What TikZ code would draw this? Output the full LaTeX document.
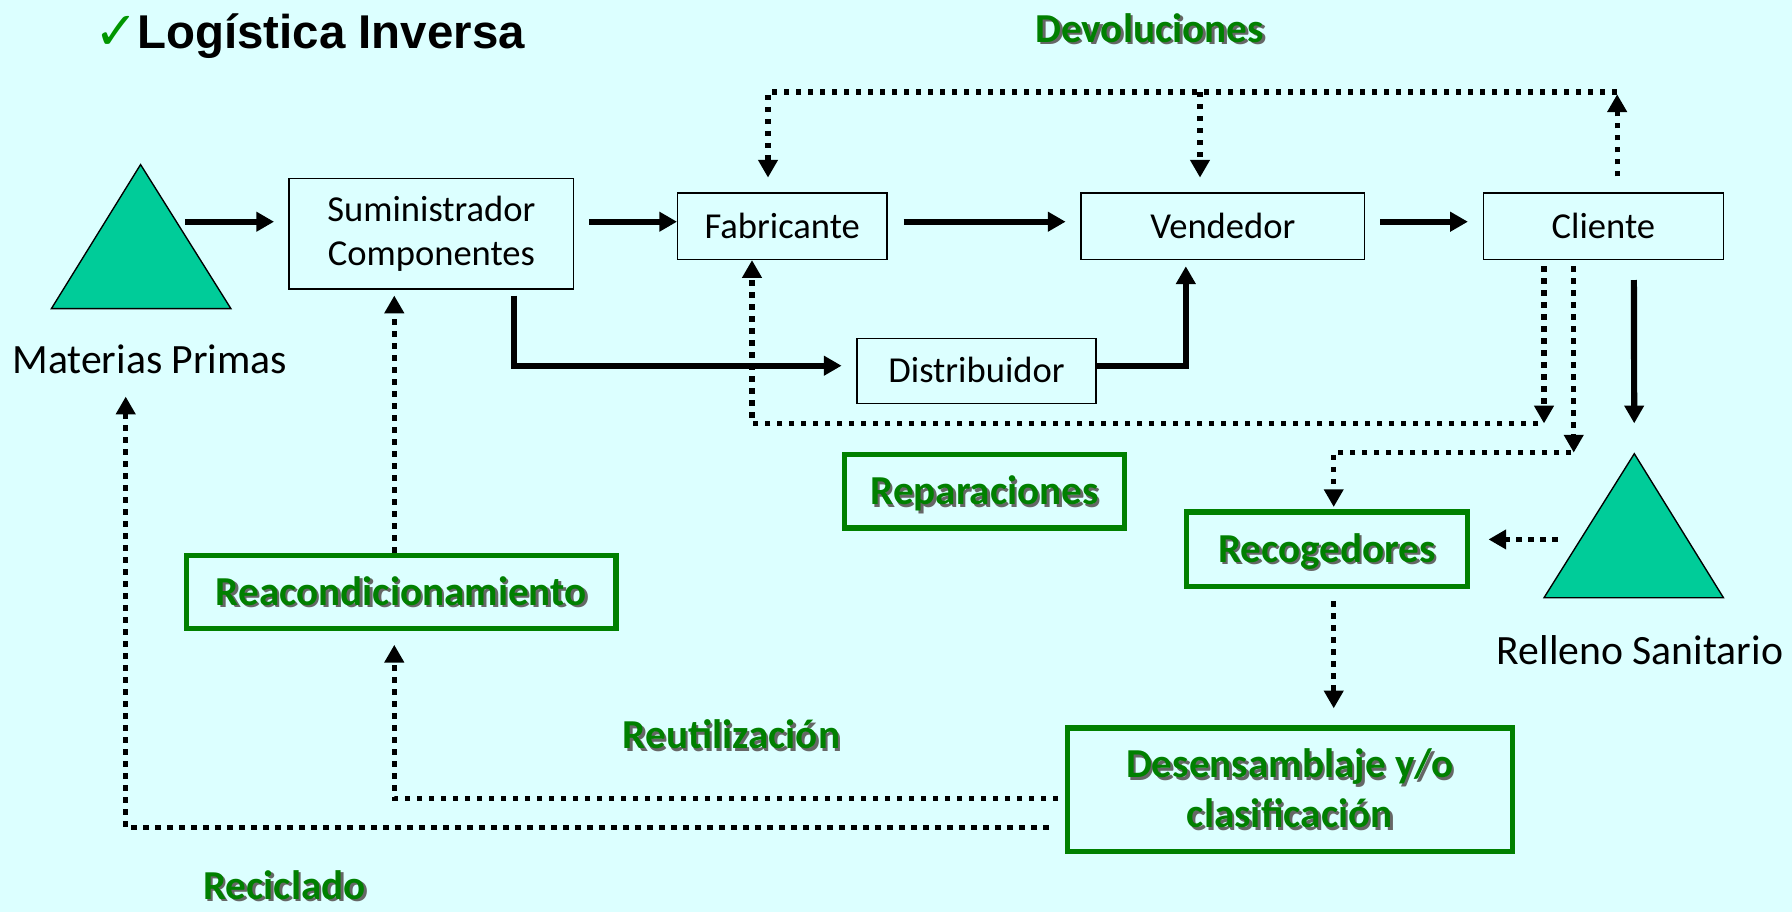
\documentclass[tikz,border=0pt]{standalone}
\usepackage{fontspec}
\setmainfont{Carlito}
\newfontfamily\titlefont{Liberation Sans}
\newfontfamily\symfont{DejaVu Sans}
\usetikzlibrary{arrows.meta,calc}
\definecolor{bgc}{RGB}{220,255,255}
\definecolor{gr}{RGB}{0,128,0}
\definecolor{chkc}{RGB}{0,150,0}
\definecolor{tricol}{RGB}{0,204,153}
\newcommand\shd[1]{\leavevmode\rlap{\hspace{2.2pt}\raisebox{-2.2pt}{\textcolor{black!60}{#1}}}\textcolor{gr}{#1}}
\begin{document}
\begin{tikzpicture}[x=1pt,y=-1pt,
  boxb/.style={draw=black,line width=1.2pt,inner sep=0pt,font=\fontsize{32}{39}\selectfont},
  box1/.style={boxb,text height=20.6pt,text depth=0pt},
  gboxb/.style={draw=gr,line width=4.4pt,inner sep=0pt,font=\fontsize{36}{44}\selectfont\bfseries},
  gbox1/.style={gboxb,text height=23.2pt,text depth=0pt},
  glabel/.style={inner sep=0pt,font=\fontsize{36}{44}\selectfont\bfseries,anchor=base},
  plain/.style={inner sep=0pt,font=\fontsize{36.5}{44}\selectfont,anchor=base},
  sarr/.style={line width=5.4pt,-{Triangle[length=15.5pt,width=16.5pt]}},
  darr/.style={line width=4.6pt,dash pattern=on 4.8pt off 5.7pt,-{Triangle[length=15.5pt,width=16.5pt]}},
  trishape/.style={draw=black,line width=1.2pt,fill=tricol}]
\useasboundingbox (0,0) rectangle (1568,798);
\fill[bgc] (0,0) rectangle (1568,798);

% triangles
\draw[trishape] (123,144) -- (202,270) -- (45,270) -- cycle;
\draw[trishape] (1430,397) -- (1508,523) -- (1351,523) -- cycle;
\coordinate (mpR) at (162,194);
\coordinate (rsApex) at (1430,397);
\coordinate (rsL) at (1363,472);
\coordinate (mpb) at (110,347);

% title
\node[anchor=base west,inner sep=0pt,font=\titlefont\bfseries\fontsize{41.5}{48}\selectfont] (title) at (120,42) {Logística Inversa};
\node[anchor=base east,inner sep=0pt,font=\symfont\fontsize{46}{50}\selectfont,text=chkc] (chk) at ([xshift=1pt,yshift=-1pt]title.base west) {✓};

% plain texts
\node[plain] (mp) at (131,327) {Materias Primas};
\node[plain] (rs) at (1435,581) {Relleno Sanitario};

% boxes
\node[boxb,align=center,minimum width=249pt,minimum height=97pt] (sum) at (377.5,204.5) {Suministrador\\Componentes};
\node[box1,minimum width=183pt,minimum height=58pt] (fab) at (684.5,198) {Fabricante};
\node[box1,minimum width=248pt,minimum height=58pt] (ven) at (1070,198) {Vendedor};
\node[box1,minimum width=210pt,minimum height=58pt] (cli) at (1403,198) {Cliente};
\node[box1,minimum width=209pt,minimum height=57pt] (dist) at (854.5,324.5) {Distribuidor};

% green boxes
\node[gbox1,minimum width=245pt,minimum height=64pt] (rep) at (861.5,430) {\shd{Reparaciones}};
\node[gbox1,minimum width=246pt,minimum height=65pt] (rec) at (1161,480.5) {\shd{Recogedores}};
\node[gbox1,minimum width=376pt,minimum height=64pt] (rea) at (351,518) {\shd{Reacondicionamiento}};
\node[gboxb,align=center,minimum width=389pt,minimum height=108pt] (des) at (1128.5,691) {\shd{Desensamblaje y/o}\\\shd{clasificación}};

% green labels
\node[glabel] (dev) at (1006,37) {\shd{Devoluciones}};
\node[glabel] (reu) at (640,655) {\shd{Reutilización}};
\node[glabel] (rcl) at (249,787) {\shd{Reciclado}};

% helper coordinates
\coordinate (row) at (0,194);
\coordinate (sd) at (450,0);
\coordinate (dr) at (0,320);
\coordinate (dv) at (1037.6,0);
\coordinate (cs) at (1429.6,0);
\coordinate (topy) at (0,80.5);
\coordinate (cu) at (1415,0);
\coordinate (fx) at (672,0);
\coordinate (vx) at (1050,0);
\coordinate (c1) at (1351,0);
\coordinate (c2) at (1377,0);
\coordinate (rr) at (0,370.5);
\coordinate (gy) at (0,396);
\coordinate (fx2) at (658,0);
\coordinate (rx) at (1167,0);
\coordinate (ya) at (0,699);
\coordinate (xa) at (345,0);
\coordinate (yb) at (0,724);

% solid flow
\draw[sarr,shorten >=12.6pt] (mpR) -- (sum.west |- row);
\draw[sarr,shorten <=13pt] (sum.east |- row) -- (fab.west |- row);
\draw[sarr,shorten <=14pt,shorten >=13pt] (fab.east |- row) -- (ven.west |- row);
\draw[sarr,shorten <=13pt,shorten >=13pt] (ven.east |- row) -- (cli.west |- row);
\draw[sarr,shorten <=5pt,shorten >=13pt] (sum.south -| sd) |- (dist.west |- dr);
\draw[sarr,shorten >=5.4pt] (dist.east |- dr) -| (ven.south -| dv);
\draw[sarr,shorten <=17.4pt,shorten >=26.6pt] (cli.south -| cs) -- (rsApex);

% devoluciones
\draw[darr,shorten <=14pt,shorten >=2pt] (cli.north -| cu) -- (topy -| cu);
\draw[darr,shorten >=13pt] (topy -| cu) -| (fab.north -| fx);
\draw[darr,shorten >=13pt] (topy -| vx) -- (ven.north -| vx);

% reparaciones
\draw[darr,shorten <=5.5pt] (cli.south -| c1) -- (rr -| c1);
\draw[darr,shorten <=5pt] (rr -| c1) -| (fab.south -| fx2);

% recogedores
\draw[darr,shorten <=5.5pt] (cli.south -| c2) -- (gy -| c2);
\draw[darr,shorten <=2pt,shorten >=2.2pt] (gy -| c2) -| (rec.north -| rx);
\draw[darr,shorten >=16.2pt] (rsL) -- (rec.east |- rsL);
\draw[darr,shorten <=11pt,shorten >=15pt] (rec.south -| rx) -- (des.north -| rx);

% reutilizacion / reacondicionamiento / reciclado
\draw[darr,shorten <=6pt,shorten >=12pt] (des.west |- ya) -| (rea.south -| xa);
\draw[darr,shorten >=5pt] (rea.north -| xa) -- (sum.south -| xa);
\draw[darr,shorten <=14pt] (des.west |- yb) -| (mpb);
\end{tikzpicture}
\end{document}
